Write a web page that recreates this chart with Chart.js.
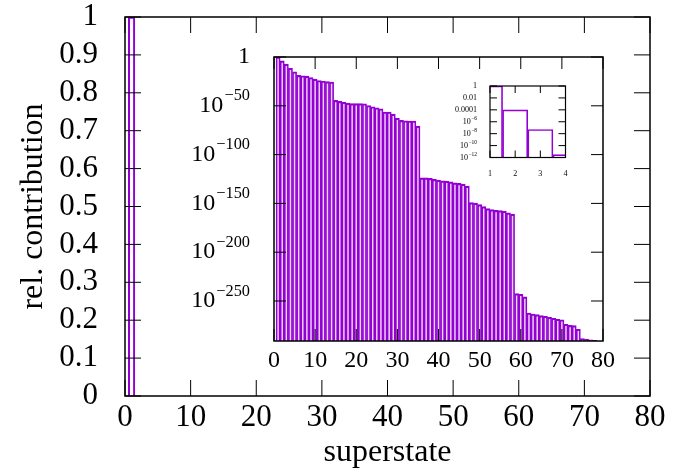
<!DOCTYPE html>
<html>
<head>
<meta charset="utf-8">
<script src="https://cdn.jsdelivr.net/npm/chart.js@4.4.0/dist/chart.umd.min.js"></script>
<style>
  html, body { margin: 0; padding: 0; background: #fff; }
  #wrap { position: relative; width: 689px; height: 473px; }
  #wrap canvas { position: absolute; left: 0; top: 0; }
</style>
</head>
<body>
<div id="wrap">
  <canvas id="chartMain" width="689" height="473"></canvas>
  <canvas id="chartInset" width="689" height="473"></canvas>
  <canvas id="chartMini" width="689" height="473"></canvas>
</div>
<script>
// ── Dados ────────────────────────────────────────────────────────
const superstate = [
   1,  2,  3,  4,  5,  6,  7,  8,  9, 10,
  11, 12, 13, 14, 15, 16, 17, 18, 19, 20,
  21, 22, 23, 24, 25, 26, 27, 28, 29, 30,
  31, 32, 33, 34, 35, 36, 37, 38, 39, 40,
  41, 42, 43, 44, 45, 46, 47, 48, 49, 50,
  51, 52, 53, 54, 55, 56, 57, 58, 59, 60,
  61, 62, 63, 64, 65, 66, 67, 68, 69, 70,
  71, 72, 73, 74, 75, 76, 77, 78
];

const contribution = [
  1,       1e-4,     5e-8,     3e-12,    8e-16,    1.6e-19,  6e-20,    3e-20,    1e-21,    2.5e-23,
  8e-25,   2.5e-25,  5e-26,    2.5e-26,  4e-45,    4e-46,    6e-47,    6e-48,    2e-48,    2e-48,
  2e-48,   1.2e-48,  2e-50,    1e-51,    1e-52,    1e-53,    4e-57,    4e-57,    3e-59,    2.5e-63,
  1e-65,   5e-66,    2.5e-66,  2.5e-66,  1.6e-71,  1.6e-124, 1.6e-124, 4e-125,   4e-126,   6e-127,
  1.2e-127,6e-128,   1.2e-128, 1.2e-129, 3e-130,   5e-131,   5e-133,   6e-150,   2e-150,   5e-152,
  5e-154,  4e-156,   4e-157,   6e-158,   4e-158,   1.2e-158, 2e-160,   1e-161,   4e-243,   8e-244,
  1.6e-246,5e-263,   5e-264,   1.2e-264, 1.2e-265, 2.5e-266, 2e-267,   2e-268,   2e-269,   6e-270,
  1.6e-274,1.2e-275, 6e-276,   1e-279,   3e-289,   6e-290,   2e-290,   5e-291
];

const mainXTicks  = [0, 10, 20, 30, 40, 50, 60, 70, 80];
const mainYTicks  = [0, 0.1, 0.2, 0.3, 0.4, 0.5, 0.6, 0.7, 0.8, 0.9, 1];
const mainYLabels = ['0', '0.1', '0.2', '0.3', '0.4', '0.5', '0.6', '0.7', '0.8', '0.9', '1'];

const insetXTicks  = [0, 10, 20, 30, 40, 50, 60, 70, 80];
const insetYTicks  = [1, 1e-50, 1e-100, 1e-150, 1e-200, 1e-250];
const insetYLabels = ['1', '10^−50', '10^−100', '10^−150', '10^−200', '10^−250'];

const miniXTicks  = [1, 2, 3, 4];
const miniYTicks  = [1, 1e-2, 1e-4, 1e-6, 1e-8, 1e-10, 1e-12];
const miniYLabels = ['1', '0.01', '0.0001', '10^−6', '10^−8', '10^−10', '10^−12'];

const pontos = superstate.map((s, i) => ({ x: s, y: contribution[i] }));

const ROXO  = '#9400D3';
const SERIF = "'Liberation Serif', 'DejaVu Serif', serif";

// ── Moldura + ticks para dentro (estilo gnuplot) ─────────────────
const molduraTicks = {
    id: 'molduraTicks',
    beforeDraw(chart, args, opts) {
        if (!opts.fundo) return;
        const { ctx, chartArea: a } = chart;
        ctx.save();
        ctx.fillStyle = '#fff';
        ctx.fillRect(a.left, a.top, a.width, a.height);
        ctx.restore();
    },
    afterDatasetsDraw(chart, args, opts) {
        const { ctx, chartArea: a, scales: { x, y } } = chart;
        const L = opts.len;
        ctx.save();
        ctx.strokeStyle = '#000';
        ctx.lineWidth = opts.tickWidth;
        ctx.beginPath();
        x.ticks.forEach(t => {
            const px = x.getPixelForValue(t.value);
            ctx.moveTo(px, a.bottom); ctx.lineTo(px, a.bottom - L);
            ctx.moveTo(px, a.top);    ctx.lineTo(px, a.top + L);
        });
        y.ticks.forEach(t => {
            const py = y.getPixelForValue(t.value);
            ctx.moveTo(a.left, py);  ctx.lineTo(a.left + L, py);
            ctx.moveTo(a.right, py); ctx.lineTo(a.right - L, py);
        });
        ctx.stroke();
        ctx.lineWidth = opts.frameWidth;
        ctx.strokeRect(a.left, a.top, a.width, a.height);

        // rótulos do eixo y com expoente (10^−50): base + sobrescrito
        if (opts.rotulosY) {
            const S = opts.rotulosY.size;
            ctx.fillStyle = '#000';
            ctx.textBaseline = 'middle';
            ctx.textAlign = 'left';
            y.ticks.forEach((t, i) => {
                const [base, expo] = opts.rotulosY.labels[i].split('^');
                const py = y.getPixelForValue(t.value);
                ctx.font = `${S}px ${SERIF}`;
                const wb = ctx.measureText(base).width;
                let we = 0;
                if (expo) { ctx.font = `${S * 0.68}px ${SERIF}`; we = ctx.measureText(expo).width + S * 0.05; }
                const x0 = a.left - opts.rotulosY.pad - wb - we;
                ctx.font = `${S}px ${SERIF}`;
                ctx.fillText(base, x0, py);
                if (expo) {
                    ctx.font = `${S * 0.68}px ${SERIF}`;
                    ctx.fillText(expo, x0 + wb + S * 0.05, py - S * 0.4);
                }
            });
        }
        ctx.restore();
    }
};

function eixo(cfg) {
    return {
        type: cfg.type || 'linear',
        min: cfg.min, max: cfg.max,
        offset: false,
        grid: { display: false, drawTicks: false },
        border: { display: false },
        afterBuildTicks: s => { s.ticks = cfg.ticks.map(v => ({ value: v })); },
        afterFit: s => {
            if (cfg.width !== undefined) s.width = cfg.width;
            if (cfg.height !== undefined) s.height = cfg.height;
            s.paddingTop = 0; s.paddingBottom = 0; s.paddingLeft = 0; s.paddingRight = 0;
        },
        ticks: {
            autoSkip: false, maxRotation: 0, minRotation: 0,
            padding: cfg.pad, color: '#000',
            font: { family: SERIF, size: cfg.size, lineHeight: 1 },
            callback: cfg.semRotulo ? (() => '') : (cfg.labels ? (v, i) => cfg.labels[i] : (v => String(v)))
        },
        title: cfg.title || { display: false }
    };
}

Chart.defaults.color = '#000';
Chart.defaults.animation = false;

// ── Gráfico principal ────────────────────────────────────────────
new Chart(document.getElementById('chartMain'), {
    type: 'bar',
    data: { datasets: [{
        data: pontos,
        backgroundColor: 'rgba(0,0,0,0)',
        borderColor: ROXO,
        borderWidth: 1.4,
        barPercentage: 1, categoryPercentage: 1,
        clip: 0
    }] },
    options: {
        responsive: false,
        layout: { padding: { top: 17, right: 39, left: 0, bottom: 0 } },
        plugins: { legend: { display: false }, tooltip: { enabled: false },
                   molduraTicks: { len: 16, tickWidth: 1, frameWidth: 1.5 } },
        scales: {
            x: eixo({ min: 0, max: 80, ticks: mainXTicks, height: 77, pad: 6, size: 31,
                title: { display: true, text: 'superstate', color: '#000',
                         font: { family: SERIF, size: 32 }, padding: { top: 0, bottom: 1 } } }),
            y: eixo({ min: 0, max: 1, ticks: mainYTicks, labels: mainYLabels, width: 125, pad: 27, size: 31,
                title: { display: true, text: 'rel. contribution', color: '#000',
                         font: { family: SERIF, size: 32 }, padding: { top: 14, bottom: 0 } } })
        }
    },
    plugins: [molduraTicks]
});

// ── Inset logarítmico ────────────────────────────────────────────
new Chart(document.getElementById('chartInset'), {
    type: 'bar',
    data: { datasets: [{
        data: pontos,
        backgroundColor: 'rgba(148,0,211,0.16)',
        borderColor: ROXO,
        borderWidth: { left: 1, right: 1, top: 1.5, bottom: 0 },
        barPercentage: 1, categoryPercentage: 1,
        clip: 0
    }] },
    options: {
        responsive: false,
        layout: { padding: { top: 57, right: 86, left: 0, bottom: 0 } },
        plugins: { legend: { display: false }, tooltip: { enabled: false },
                   molduraTicks: { len: 12, tickWidth: 1, frameWidth: 1.5, fundo: true,
                                   rotulosY: { labels: insetYLabels, size: 24, pad: 24 } } },
        scales: {
            x: eixo({ min: 0, max: 80, ticks: insetXTicks, height: 132, pad: 8, size: 24 }),
            y: eixo({ type: 'logarithmic', min: 1e-291, max: 1, ticks: insetYTicks, semRotulo: true,
                      width: 274, pad: 24, size: 24 })
        }
    },
    plugins: [molduraTicks]
});

// ── Mini inset (superstates 1–4) ─────────────────────────────────
new Chart(document.getElementById('chartMini'), {
    type: 'bar',
    data: { datasets: [{
        data: pontos,
        backgroundColor: 'rgba(0,0,0,0)',
        borderColor: ROXO,
        borderWidth: 1,
        barPercentage: 1, categoryPercentage: 1,
        clip: 0
    }] },
    options: {
        responsive: false,
        layout: { padding: { top: 86, right: 123.5, left: 0, bottom: 0 } },
        plugins: { legend: { display: false }, tooltip: { enabled: false },
                   molduraTicks: { len: 7, tickWidth: 1, frameWidth: 1.2, fundo: true,
                                   rotulosY: { labels: miniYLabels, size: 8, pad: 13 } } },
        scales: {
            x: eixo({ min: 1, max: 4, ticks: miniXTicks, height: 315.5, pad: 12, size: 8 }),
            y: eixo({ type: 'logarithmic', min: 1e-12, max: 1, ticks: miniYTicks, semRotulo: true,
                      width: 490, pad: 14, size: 8 })
        }
    },
    plugins: [molduraTicks]
});
</script>
</body>
</html>
